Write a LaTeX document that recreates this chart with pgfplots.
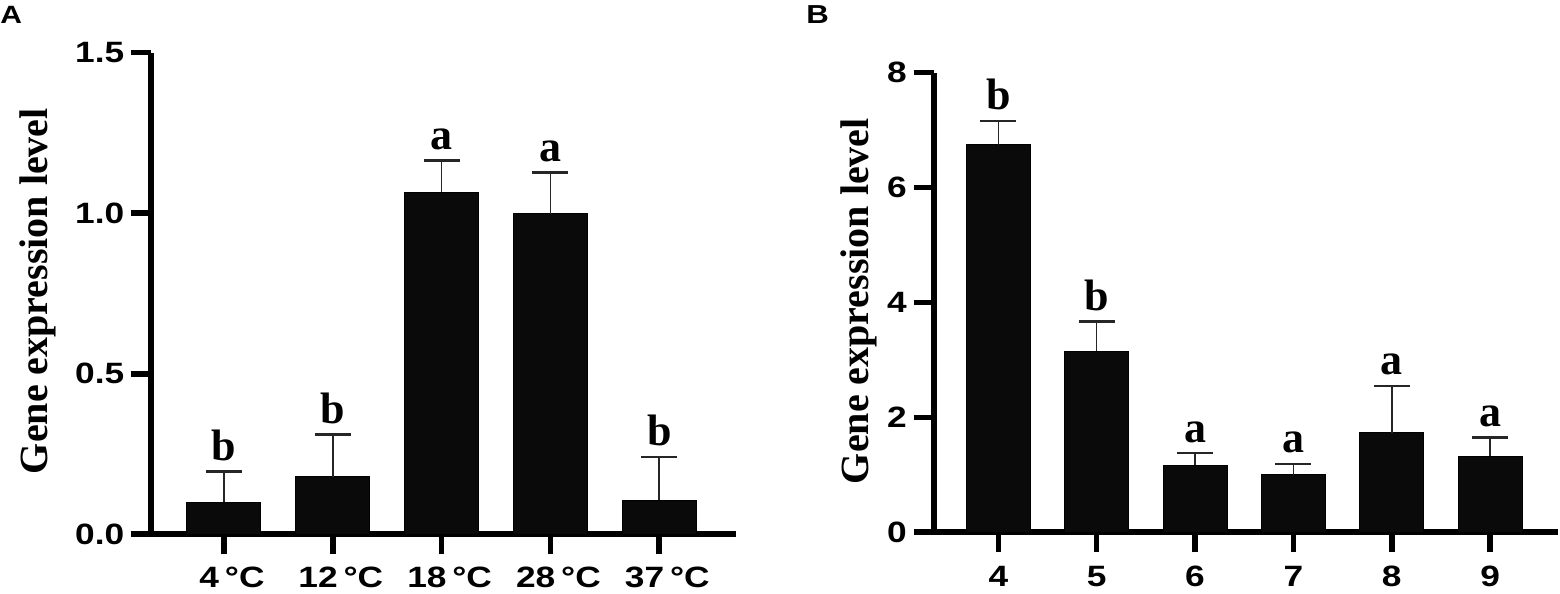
\documentclass[border=0pt]{standalone}
\usepackage{fontspec}
\setmainfont{Liberation Serif}
\newfontfamily\tf[FakeStretch=1.2]{Liberation Sans}
\usepackage{pgfplots}
\usepackage{pgfplotstable}
\pgfplotsset{compat=1.18}

\pgfplotstableread{
x y e lab
0 0.100 0.095 b
1 0.180 0.130 b
2 1.065 0.098 a
3 0.998 0.128 a
4 0.106 0.135 b
}\dataA

\pgfplotstableread{
x y e lab
0 6.745 0.415 b
1 3.153 0.512 b
2 1.163 0.216 a
3 1.005 0.184 a
4 1.734 0.814 a
5 1.327 0.328 a
}\dataB

\pgfplotsset{
  panel/.style={
    scale only axis,
    anchor=south west,
    axis x line*=bottom,
    axis y line*=left,
    axis line style={line width=2.8pt, black, -},
    tick align=outside,
    major tick length=10pt,
    tick style={line width=2.8pt, black},
    ymin=0,
    clip=false,
    tick label style={font=\tf\bfseries\fontsize{14.7}{16}\selectfont},
    /pgf/number format/assume math mode=true,
    ylabel={Gene expression level},
    ylabel style={font=\bfseries\fontsize{20}{24}\selectfont, anchor=base},
  },
  barplot/.style={
    ybar, bar shift=0pt, bar width=#1, fill=black!96, draw=black, line width=0.5pt,
    error bars/.cd, y dir=plus, y explicit,
    error bar style={line width=0.8pt, black!85},
    error mark options={rotate=90, mark size=9pt, line width=1.4pt, black!85},
  },
  letters/.style={
    draw=none, mark=none, nodes near coords, point meta=explicit symbolic,
    nodes near coords style={font=\bfseries\fontsize{22}{26}\selectfont, anchor=base, yshift=5.5pt, inner sep=0pt},
  },
}

\begin{document}
\begin{tikzpicture}
\path[use as bounding box] (0,0) rectangle (780pt,297pt);

\node[anchor=base west, inner sep=0pt, font=\tf\bfseries\fontsize{12.5}{14}\selectfont] at (0pt,285pt) {A};
\node[anchor=base west, inner sep=0pt, font=\tf\bfseries\fontsize{13}{15}\selectfont] at (403pt,285pt) {B};

\begin{axis}[panel,
  at={(75.65pt,29.85pt)}, width=292.35pt, height=240.8pt,
  xmin=-0.668, xmax=4.705, ymax=1.5,
  xtick={0,1,2,3,4},
  xticklabels={4\hspace{0.2em}°C,12\hspace{0.2em}°C,18\hspace{0.2em}°C,28\hspace{0.2em}°C,37\hspace{0.2em}°C},
  xticklabel style={xshift=4pt, inner ysep=0pt, yshift=-6pt},
  ytick={0,0.5,1,1.5},
  yticklabel style={/pgf/number format/.cd, fixed, fixed zerofill, precision=1},
  ylabel style={at={(axis description cs:-0.177,0.505)}},
]
\addplot[barplot=0.68] table[x=x, y=y, y error=e] {\dataA};
\addplot[letters] table[x=x, y expr=\thisrow{y}+\thisrow{e}, meta=lab] {\dataA};
\end{axis}

\begin{axis}[panel,
  at={(466.85pt,30.85pt)}, width=312.15pt, height=229.8pt,
  xmin=-0.657, xmax=5.69, ymax=8,
  xtick={0,1,2,3,4,5},
  xticklabels={4,5,6,7,8,9},
  xticklabel style={yshift=-3.5pt},
  ytick={0,2,4,6,8},
  ylabel style={at={(axis description cs:-0.105,0.503)}},
]
\addplot[barplot=0.65] table[x=x, y=y, y error=e] {\dataB};
\addplot[letters] table[x=x, y expr=\thisrow{y}+\thisrow{e}, meta=lab] {\dataB};
\end{axis}
\end{tikzpicture}
\end{document}
